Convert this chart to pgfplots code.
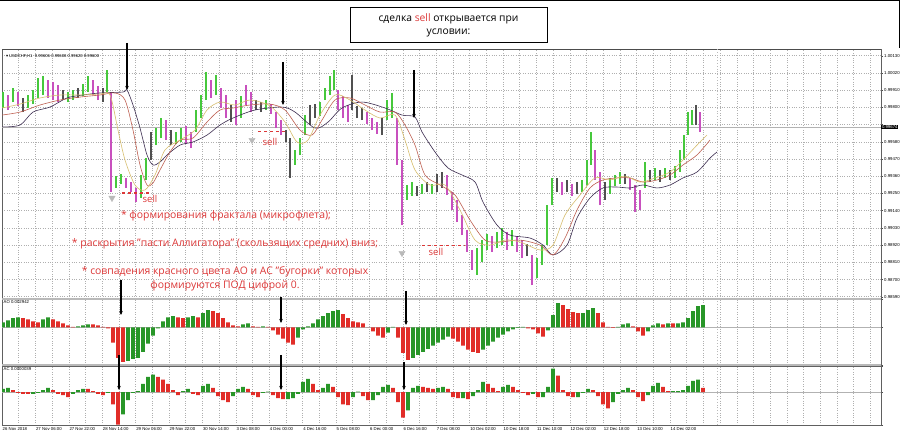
\documentclass[border=0pt]{standalone}
\usepackage{pgfplots}
\pgfplotsset{compat=1.18}
\usepackage{pgfplotstable}
\usepackage{fontspec}
\setmainfont{Open Sans}
\newfontfamily\tickf{Liberation Sans}
\newfontfamily\dejavu{DejaVu Sans}
\usetikzlibrary{arrows.meta}
\definecolor{cG}{RGB}{70,200,60}
\definecolor{cM}{RGB}{200,80,190}
\definecolor{cK}{RGB}{80,80,80}
\definecolor{aoG}{RGB}{40,150,40}
\definecolor{aoR}{RGB}{225,45,40}
\definecolor{jaw}{RGB}{60,45,80}
\definecolor{teeth}{RGB}{190,95,80}
\definecolor{lips}{RGB}{215,190,110}
\definecolor{annot}{RGB}{220,55,55}
\definecolor{gridc}{RGB}{175,175,175}

\pgfplotstableread{
x lo hi
3 0.99796 0.99898
13 0.99834 0.99924
28 0.99796 0.99879
33 0.99821 0.99911
38 0.99860 0.99988
43 0.99879 1.00000
68 0.99834 0.99898
73 0.99847 0.99911
83 0.99873 0.99949
88 0.99898 1.00000
107 0.99898 1.00039
116 0.99285 0.99361
121 0.99310 0.99374
141 0.99221 0.99368
146 0.99336 0.99476
156 0.99559 0.99668
161 0.99604 0.99732
176 0.99566 0.99643
181 0.99579 0.99668
196 0.99643 0.99783
201 0.99732 0.99879
206 0.99847 1.00026
216 0.99879 1.00007
241 0.99732 0.99873
266 0.99783 0.99847
295 0.99432 0.99528
300 0.99496 0.99604
305 0.99623 0.99751
320 0.99745 0.99834
325 0.99847 0.99924
330 0.99879 1.00000
334 0.99911 1.00039
387 0.99719 0.99847
392 0.99732 0.99892
407 0.99208 0.99304
412 0.99234 0.99323
422 0.99246 0.99310
432 0.99246 0.99310
477 0.98729 0.98901
482 0.98812 0.98952
487 0.98889 0.98991
497 0.98901 0.99004
502 0.98920 0.99029
512 0.98914 0.99016
537 0.98710 0.98837
542 0.98793 0.98920
547 0.98920 0.99176
552 0.99176 0.99349
582 0.99259 0.99336
587 0.99304 0.99464
591 0.99432 0.99643
610 0.99246 0.99349
615 0.99297 0.99368
620 0.99310 0.99387
645 0.99285 0.99451
655 0.99336 0.99413
665 0.99349 0.99413
675 0.99349 0.99425
680 0.99387 0.99528
684 0.99464 0.99623
688 0.99623 0.99770
692 0.99687 0.99783
}\candG

\pgfplotstableread{
x lo hi
8 0.99783 0.99879
18 0.99809 0.99898
48 0.99860 0.99975
53 0.99847 0.99962
58 0.99834 0.99943
93 0.99879 0.99975
98 0.99847 0.99937
111 0.99259 0.99898
126 0.99285 0.99349
131 0.99259 0.99323
136 0.99195 0.99285
166 0.99591 0.99719
186 0.99566 0.99681
191 0.99540 0.99643
211 0.99860 0.99975
221 0.99796 0.99924
226 0.99732 0.99879
236 0.99687 0.99847
246 0.99815 0.99943
251 0.99770 0.99898
271 0.99758 0.99821
276 0.99668 0.99770
281 0.99623 0.99719
338 0.99783 0.99911
343 0.99732 0.99873
348 0.99706 0.99815
367 0.99694 0.99770
372 0.99655 0.99732
377 0.99630 0.99706
397 0.99432 0.99732
402 0.99048 0.99464
447 0.99240 0.99368
452 0.99144 0.99259
457 0.99067 0.99208
462 0.98984 0.99112
467 0.98876 0.99016
472 0.98761 0.98889
492 0.98876 0.98978
507 0.98889 0.99004
517 0.98876 0.98978
522 0.98837 0.98952
532 0.98665 0.98857
562 0.99240 0.99323
572 0.99234 0.99310
595 0.99336 0.99528
600 0.99176 0.99387
630 0.99272 0.99349
635 0.99131 0.99304
640 0.99144 0.99272
700 0.99643 0.99770
}\candM

\pgfplotstableread{
x lo hi
23 0.99770 0.99860
63 0.99847 0.99911
78 0.99860 0.99924
103 0.99834 0.99924
151 0.99464 0.99643
171 0.99559 0.99655
231 0.99706 0.99815
256 0.99783 0.99847
261 0.99770 0.99834
286 0.99579 0.99655
290 0.99349 0.99604
310 0.99687 0.99815
315 0.99732 0.99821
352 0.99783 1.00007
357 0.99732 0.99809
362 0.99719 0.99796
382 0.99623 0.99732
417 0.99234 0.99297
427 0.99259 0.99323
437 0.99259 0.99374
442 0.99285 0.99387
527 0.98850 0.98927
557 0.99259 0.99349
567 0.99259 0.99336
577 0.99246 0.99323
605 0.99208 0.99323
625 0.99310 0.99374
650 0.99323 0.99400
660 0.99323 0.99400
670 0.99336 0.99400
696 0.99687 0.99815
}\candK

\pgfplotsset{
  mt/.style={
    scale only axis, width=879pt, xmin=2, xmax=881,
    axis line style={gray!75!black, line width=0.5pt},
    grid=major, major grid style={gridc, dotted, line width=0.5pt},
    minor grid style={gridc, dotted, line width=0.5pt},
    ytick pos=right, yticklabel pos=right,
    tick align=outside, major tick length=2pt,
    major x tick style={draw=none}, minor x tick style={draw=none},
    major y tick style={gray!60!black, line width=0.4pt},
    yticklabel style={font=\tickf\fontsize{4.3}{5}\selectfont, inner sep=1pt},
    xticklabel style={font=\tickf\fontsize{4.3}{5}\selectfont},
    scaled y ticks=false, scaled x ticks=false,
    clip=true,
  },
  cand/.style={draw=none, mark=none, error bars/.cd, y dir=plus, y explicit, error mark=none,
    error bar style={line width=2.5pt, draw=#1, solid}},
}

\begin{document}
\begin{tikzpicture}[x=1pt,y=1pt]
\fill[white] (0pt,0pt) rectangle (900pt,435pt);

% ---------------- main price panel ----------------
\begin{axis}[mt, at={(2pt,137pt)}, anchor=south west, height=249pt,
  ymin=0.98582, ymax=1.00173,
  xtick={2,18.7,...,881}, xticklabels={},
  ytick={0.9859,0.987,0.9881,0.9892,0.9903,0.9914,0.9925,0.9936,0.9947,0.9958,0.9969,0.998,0.9991,1.0002,1.0013},
  yticklabels={0.98590,0.98700,0.98810,0.98920,0.99030,0.99140,0.99250,0.99360,0.99470,0.99580,{},0.99800,0.99910,1.00020,1.00130},
]
\addplot[gray!60, line width=0.5pt] coordinates {(2,0.99674) (881,0.99674)};
\addplot[cand=cG] table[x=x, y=lo, y error expr=\thisrow{hi}-\thisrow{lo}] {\candG};
\addplot[cand=cM] table[x=x, y=lo, y error expr=\thisrow{hi}-\thisrow{lo}] {\candM};
\addplot[cand=cK] table[x=x, y=lo, y error expr=\thisrow{hi}-\thisrow{lo}] {\candK};
\addplot[jaw, line width=0.6pt, smooth] coordinates {
(2,0.99675)(20,0.99687)(33,0.99770)(50,0.99802)(67,0.99860)(83,0.99879)(100,0.99892)(123,0.99898)(127,0.99911)(133,0.99815)(140,0.99668)(147,0.99496)(153,0.99432)(160,0.99451)(167,0.99496)(180,0.99559)(193,0.99579)(207,0.99623)(220,0.99687)(233,0.99732)(255,0.99783)(282,0.99802)(295,0.99770)(315,0.99668)(328,0.99706)(342,0.99796)(362,0.99834)(385,0.99796)(402,0.99751)(415,0.99738)(422,0.99643)(435,0.99515)(448,0.99413)(462,0.99368)(475,0.99323)(483,0.99195)(497,0.99048)(510,0.98984)(530,0.98965)(543,0.98920)(553,0.98857)(567,0.98920)(577,0.99093)(590,0.99221)(603,0.99285)(617,0.99291)(630,0.99285)(643,0.99304)(657,0.99285)(670,0.99304)(683,0.99349)(697,0.99387)(710,0.99476)(717,0.99515)};
\addplot[teeth, line width=0.6pt, smooth] coordinates {
(2,0.99751)(20,0.99770)(40,0.99815)(60,0.99847)(80,0.99866)(100,0.99879)(115,0.99892)(125,0.99847)(133,0.99655)(140,0.99432)(147,0.99304)(153,0.99317)(160,0.99400)(170,0.99515)(180,0.99591)(193,0.99604)(207,0.99706)(220,0.99783)(233,0.99796)(250,0.99815)(270,0.99821)(285,0.99783)(300,0.99655)(312,0.99623)(322,0.99719)(335,0.99847)(350,0.99860)(365,0.99815)(380,0.99770)(395,0.99770)(405,0.99687)(415,0.99559)(425,0.99368)(440,0.99304)(455,0.99240)(470,0.99080)(485,0.98952)(500,0.98940)(520,0.98952)(540,0.98920)(553,0.98857)(565,0.98965)(577,0.99144)(590,0.99285)(603,0.99336)(617,0.99349)(630,0.99349)(643,0.99323)(657,0.99336)(670,0.99368)(683,0.99432)(697,0.99496)(710,0.99591)};
\addplot[lips, line width=0.6pt, smooth] coordinates {
(2,0.99796)(20,0.99821)(40,0.99860)(60,0.99879)(80,0.99879)(100,0.99885)(110,0.99879)(118,0.99655)(125,0.99464)(135,0.99304)(145,0.99272)(155,0.99368)(165,0.99528)(180,0.99591)(195,0.99655)(207,0.99783)(220,0.99834)(235,0.99815)(250,0.99847)(270,0.99809)(285,0.99706)(297,0.99579)(308,0.99591)(320,0.99751)(335,0.99879)(350,0.99847)(365,0.99783)(380,0.99732)(395,0.99751)(405,0.99591)(415,0.99400)(430,0.99304)(445,0.99304)(460,0.99144)(475,0.98952)(490,0.98920)(505,0.98952)(520,0.98940)(540,0.98889)(553,0.98920)(565,0.99112)(580,0.99240)(595,0.99349)(610,0.99336)(625,0.99361)(640,0.99323)(655,0.99349)(670,0.99387)(683,0.99464)(697,0.99559)(707,0.99623)};
\addplot[only marks, mark=triangle*, mark size=3.6pt, mark options={rotate=180, fill=gray!55, draw=gray!55}]
  coordinates {(112,0.99221) (252,0.99591) (402,0.98869)};
\addplot[annot, dashed, line width=1.1pt] coordinates {(122,0.99253) (150,0.99253)};
\addplot[annot, dashed, line width=1.1pt] coordinates {(258,0.99643) (288,0.99643)};
\addplot[annot, dashed, line width=1.1pt] coordinates {(422,0.98920) (465,0.98920)};
\node[annot, font=\fontsize{9.5}{10}\selectfont, inner sep=0pt] at (axis cs:150,0.99215) {sell};
\node[annot, font=\fontsize{9.5}{10}\selectfont, inner sep=0pt] at (axis cs:270,0.99579) {sell};
\node[annot, font=\fontsize{9.5}{10}\selectfont, inner sep=0pt] at (axis cs:436,0.98876) {sell};
\end{axis}
\node[fill=black, text=white, font=\tickf\fontsize{4.3}{5}\selectfont, inner sep=0.8pt, anchor=west] at (881pt,308pt) {0.99674};

% ---------------- AO panel ----------------
\begin{axis}[mt, at={(2pt,70pt)}, anchor=south west, height=66pt,
  ymin=-0.0050, ymax=0.00378,
  xtick={2,18.7,...,881}, xticklabels={},
  ytick={-0.005,0,0.00378}, yticklabels={},
]
\addplot[gray!60, line width=0.4pt] coordinates {(2,0) (881,0)};
\addplot[ybar, bar width=3.6pt, bar shift=0pt, fill=aoG, draw=none] coordinates {
(3,0.00068)(8,0.00095)(13,0.00122)(18,0.00135)(43,0.00108)(48,0.00135)(78,0.00014)(83,0.00027)(88,0.00041)(128,-0.00446)(133,-0.00419)(138,-0.00405)(143,-0.00324)(148,-0.00216)(153,-0.00108)(158,-0.00014)(163,0.00081)(168,0.00135)(173,0.00149)(188,0.00135)(193,0.00149)(203,0.00189)(208,0.00230)(243,0.00041)(248,0.00054)(263,0.00014)(298,-0.00135)(303,-0.00027)(308,0.00014)(313,0.00054)(318,0.00108)(323,0.00149)(328,0.00189)(333,0.00216)(338,0.00230)(388,-0.00068)(393,0.00007)(413,-0.00405)(418,-0.00365)(423,-0.00324)(428,-0.00284)(433,-0.00243)(438,-0.00203)(443,-0.00162)(448,-0.00122)(483,-0.00297)(488,-0.00243)(493,-0.00189)(498,-0.00135)(503,-0.00095)(508,-0.00054)(513,-0.00027)(518,-0.00007)(523,0.00007)(548,-0.00041)(553,0.00162)(558,0.00324)(583,0.00189)(588,0.00230)(593,0.00257)(618,0.00007)(623,0.00041)(628,0.00054)(648,-0.00054)(653,0.00027)(658,0.00054)(668,0.00054)(678,0.00054)(683,0.00068)(688,0.00122)(693,0.00216)(698,0.00284)(703,0.00297)};
\addplot[ybar, bar width=3.6pt, bar shift=0pt, fill=aoR, draw=none] coordinates {
(23,0.00122)(28,0.00108)(33,0.00081)(38,0.00068)(53,0.00108)(58,0.00081)(63,0.00054)(68,0.00027)(73,0.00007)(93,0.00041)(98,0.00027)(103,0.00007)(108,-0.00014)(113,-0.00203)(118,-0.00405)(123,-0.00459)(178,0.00135)(183,0.00122)(198,0.00135)(213,0.00216)(218,0.00189)(223,0.00122)(228,0.00068)(233,0.00027)(238,0.00014)(253,0.00014)(258,0.00007)(268,0.00007)(273,-0.00041)(278,-0.00095)(283,-0.00149)(288,-0.00203)(293,-0.00230)(343,0.00176)(348,0.00122)(353,0.00081)(358,0.00068)(363,0.00054)(368,0)(373,-0.00054)(378,-0.00108)(383,-0.00135)(398,-0.00135)(403,-0.00338)(408,-0.00432)(453,-0.00149)(458,-0.00189)(463,-0.00243)(468,-0.00297)(473,-0.00324)(478,-0.00338)(528,-0.00014)(533,-0.00027)(538,-0.00081)(543,-0.00122)(563,0.00297)(568,0.00243)(573,0.00203)(578,0.00189)(598,0.00189)(603,0.00068)(608,0.00007)(613,-0.00007)(633,0.00014)(638,-0.00054)(643,-0.00108)(663,0.00041)(673,0.00054)};
\node[anchor=north west, font=\tickf\fontsize{4.3}{5}\selectfont, inner sep=1pt] at (rel axis cs:1,1) {0.00378};
\node[anchor=west, font=\tickf\fontsize{4.3}{5}\selectfont, inner sep=1pt] at (axis cs:881,0) {0.00};
\node[anchor=south west, font=\tickf\fontsize{4.3}{5}\selectfont, inner sep=1pt] at (rel axis cs:1,0) {-0.00500};
\node[anchor=north west, font=\tickf\fontsize{4.3}{5}\selectfont, inner sep=1.5pt] at (rel axis cs:0,1) {AO 0.002942};
\end{axis}

% ---------------- AC panel ----------------
\begin{axis}[mt, at={(2pt,10pt)}, anchor=south west, height=59pt,
  ymin=-0.00137, ymax=0.00108,
  xtick={2,35.4,...,871}, minor xtick={18.7,52.1,...,881}, grid=both,
  xticklabels={26 Nov 2018,27 Nov 06:00,27 Nov 22:00,28 Nov 14:00,29 Nov 06:00,29 Nov 22:00,30 Nov 14:00,3 Dec 08:00,4 Dec 00:00,4 Dec 16:00,5 Dec 08:00,6 Dec 00:00,6 Dec 16:00,7 Dec 08:00,10 Dec 02:00,10 Dec 18:00,11 Dec 10:00,12 Dec 02:00,12 Dec 18:00,13 Dec 10:00,14 Dec 02:00,{},{},{},{},{},{}},
  xticklabel style={anchor=north west, xshift=-0.5pt, yshift=1pt, inner sep=1pt},
  ytick={-0.00137,0,0.00108}, yticklabels={},
]
\addplot[gray!60, line width=0.4pt] coordinates {(2,0) (881,0)};
\addplot[ybar, bar width=3.6pt, bar shift=0pt, fill=aoG, draw=none] coordinates {
(3,0.00013)(8,0.00017)(33,-0.00008)(38,-0.00004)(43,0.00008)(48,0.00017)(73,-0.00008)(78,0.00008)(83,0.00013)(108,-0.00004)(123,-0.00093)(128,-0.00034)(133,-0.00004)(138,0.00004)(143,0.00034)(148,0.00063)(153,0.00072)(183,0.00004)(188,0.00013)(203,0.00025)(208,0.00034)(233,-0.00017)(238,0.00013)(243,0.00021)(263,-0.00004)(268,0.00002)(288,-0.00030)(293,-0.00025)(298,-0.00008)(303,0.00042)(308,0.00055)(323,0.00017)(328,0.00034)(353,-0.00021)(358,0.00002)(373,-0.00034)(378,-0.00013)(383,0.00021)(388,0.00030)(408,-0.00076)(413,0.00017)(418,0.00025)(438,0.00017)(443,0.00021)(463,-0.00025)(473,-0.00017)(478,0.00008)(483,0.00042)(503,0.00021)(508,0.00030)(533,-0.00008)(543,-0.00021)(548,0.00021)(553,0.00097)(578,-0.00021)(583,-0.00004)(588,0.00013)(613,-0.00042)(618,-0.00008)(623,0.00008)(628,0.00017)(648,-0.00013)(653,0.00025)(658,0.00038)(673,0.00004)(678,0.00004)(683,0.00008)(688,0.00025)(693,0.00046)(698,0.00051)};
\addplot[ybar, bar width=3.6pt, bar shift=0pt, fill=aoR, draw=none] coordinates {
(13,0.00008)(18,-0.00004)(23,-0.00008)(28,-0.00008)(53,0.00008)(58,-0.00008)(63,-0.00013)(68,-0.00021)(88,0.00013)(93,0.00004)(98,-0.00008)(103,-0.00013)(113,-0.00051)(118,-0.00135)(158,0.00063)(163,0.00051)(168,0.00034)(173,0.00008)(178,-0.00013)(193,-0.00008)(198,-0.00013)(213,0.00017)(218,-0.00017)(223,-0.00034)(228,-0.00042)(248,0.00013)(253,-0.00013)(258,-0.00021)(273,-0.00013)(278,-0.00025)(283,-0.00030)(313,0.00034)(318,0.00008)(333,0.00021)(338,-0.00021)(343,-0.00051)(348,-0.00055)(363,-0.00017)(368,-0.00034)(393,0.00017)(398,-0.00042)(403,-0.00106)(423,0.00021)(428,0.00017)(433,0.00013)(448,0.00013)(453,-0.00021)(458,-0.00025)(468,-0.00030)(488,0.00034)(493,0.00017)(498,0.00004)(513,0.00021)(518,0.00008)(523,-0.00004)(528,-0.00013)(538,-0.00021)(558,0.00068)(563,0.00008)(568,-0.00017)(573,-0.00021)(593,0.00008)(598,-0.00017)(603,-0.00051)(608,-0.00068)(633,0.00008)(638,-0.00021)(643,-0.00038)(663,0.00021)(668,0.00004)(703,0.00017)};
\node[anchor=north west, font=\tickf\fontsize{4.3}{5}\selectfont, inner sep=1pt] at (rel axis cs:1,1) {0.00108};
\node[anchor=west, font=\tickf\fontsize{4.3}{5}\selectfont, inner sep=1pt] at (axis cs:881,0) {0.00};
\node[anchor=south west, font=\tickf\fontsize{4.3}{5}\selectfont, inner sep=1pt] at (rel axis cs:1,0) {-0.00137};
\node[anchor=north west, font=\tickf\fontsize{4.3}{5}\selectfont, inner sep=1.5pt] at (rel axis cs:0,1) {AC 0.0000039};
\end{axis}

% panel separators and frame lines
\draw[gray!55, line width=2pt] (2pt,136pt) -- (881pt,136pt);
\draw[gray!55, line width=2pt] (2pt,69.5pt) -- (881pt,69.5pt);
\draw[gray!60!black, line width=0.5pt] (2pt,386pt) -- (881pt,386pt);
\draw[gray!55, line width=0.8pt, dotted] (717pt,10pt) -- (717pt,386pt);
\draw[black, line width=1.5pt] (0pt,434.3pt) -- (900pt,434.3pt);
\draw[black, line width=1.2pt] (899.4pt,387pt) -- (899.4pt,435pt);

\node[anchor=west, font=\tickf\fontsize{4.2}{5}\selectfont, inner sep=0pt] at (6pt,379pt) {{\dejavu ▾}\,USDCHF,H1 \ 0.99606 0.99608 0.99620 0.99600};

% title box
\draw[black, line width=1pt, fill=white] (350pt,392pt) rectangle (547pt,427pt);
\node[font=\fontsize{10.3}{12}\selectfont, inner sep=0pt] at (448.5pt,416pt) {сделка \textcolor{annot}{sell} открывается при};
\node[font=\fontsize{10.3}{12}\selectfont, inner sep=0pt] at (448.5pt,402pt) {условии:};

% annotations
\begin{scope}[annot, font=\fontsize{10.4}{12}\selectfont]
\node at (226pt,219pt) {* формирования фрактала (микрофлета);};
\node at (225pt,191pt) {* раскрытия "пасти Аллигатора" (скользящих средних) вниз;};
\node at (225pt,163pt) {* совпадения красного цвета AO и AC "бугорки" которых};
\node at (225pt,149pt) {формируются ПОД цифрой 0.};
\end{scope}

% arrows
\begin{scope}[black, line width=1.2pt, -{Stealth[length=4pt, width=3.5pt]}]
\draw (127pt,392pt) -- (127pt,345pt);
\draw (283pt,373pt) -- (283pt,330pt);
\draw (414pt,365pt) -- (414pt,317pt);
\draw (121pt,155pt) -- (121pt,120pt);
\draw (281pt,138pt) -- (281pt,112pt);
\draw (406pt,144pt) -- (406pt,110pt);
\draw (119pt,80pt) -- (119pt,45pt);
\draw (281pt,80pt) -- (281pt,45pt);
\draw (404pt,73pt) -- (404pt,45pt);
\end{scope}
\pgfresetboundingbox
\path[use as bounding box] (0pt,0pt) rectangle (900pt,435pt);
\end{tikzpicture}
\end{document}
